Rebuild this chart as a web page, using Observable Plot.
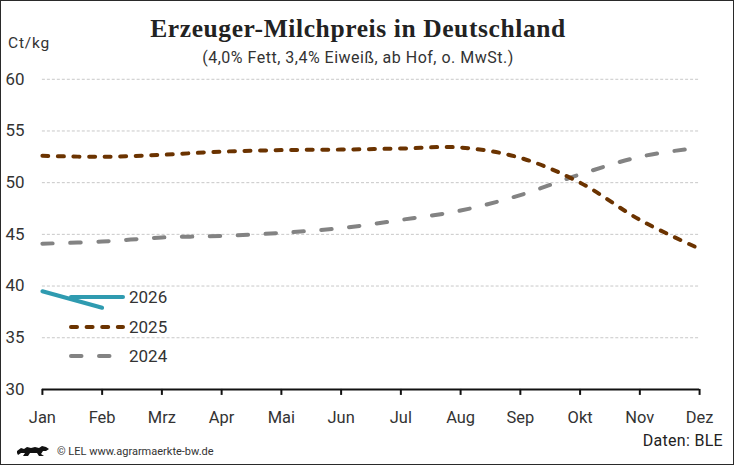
<!DOCTYPE html>
<html><head><meta charset="utf-8">
<script src="https://cdn.jsdelivr.net/npm/d3@7"></script>
<script src="https://cdn.jsdelivr.net/npm/@observablehq/plot@0.6"></script>
<style>
html,body{margin:0;padding:0;background:#fff;}
#wrap{position:relative;width:734px;height:465px;box-sizing:border-box;border:1px solid #2a2a2a;overflow:hidden;font-family:Roboto,"Liberation Sans",sans-serif;color:#333;}
#wrap svg.plot{position:absolute;left:-1px;top:-1px;}
.abs{position:absolute;white-space:nowrap;}
#title{left:-10px;width:734px;top:13px;text-align:center;font-family:"Liberation Serif",serif;font-weight:bold;font-size:25.5px;color:#222;letter-spacing:0.6px;}
#subtitle{left:-10px;width:734px;top:47px;text-align:center;font-size:16px;letter-spacing:0.5px;color:#333;}
#unit{left:7px;top:33px;font-size:15.5px;letter-spacing:0.8px;color:#333;}
#legend{left:67px;top:281px;font-size:17px;color:#333;}
#legend .row{display:flex;align-items:center;height:29.7px;}
#legend svg{margin-right:3px;}
#source{right:10px;top:430px;font-size:16px;letter-spacing:0.3px;color:#222;}
#copy{left:14px;top:443px;font-size:11px;color:#333;display:flex;align-items:center;}
</style></head>
<body>
<div id="wrap">
  <div id="chart"></div>
  <div id="title" class="abs">Erzeuger-Milchpreis in Deutschland</div>
  <div id="subtitle" class="abs">(4,0% Fett, 3,4% Eiweiß, ab Hof, o. MwSt.)</div>
  <div id="unit" class="abs">Ct/kg</div>
  <div id="legend" class="abs"></div>
  <div id="source" class="abs">Daten: BLE</div>
  <div id="copy" class="abs"><svg width="36" height="14" viewBox="0 0 36 14" style="margin-right:6px"><path d="M2 7 L6 4 L9 5 L12 3 L16 4 L20 3 L24 4 L27 2 L31 3 L34 5 L31 7 L28 7 L26 10 L29 12 L24 12 L22 9 L15 9 L13 12 L8 12 L10 9 L6 9 L3 11 L2 9 Z" fill="#111"/></svg>© LEL www.agrarmaerkte-bw.de</div>
</div>
<script>
const months = ["Jan","Feb","Mrz","Apr","Mai","Jun","Jul","Aug","Sep","Okt","Nov","Dez"];
const years = ["2026","2025","2024"];
const values2026 = [39.5, 37.9];
const values2025 = [52.6, 52.5, 52.7, 53.0, 53.15, 53.2, 53.3, 53.4, 52.4, 50.0, 46.4, 43.6];
const values2024 = [44.1, 44.3, 44.7, 44.85, 45.15, 45.6, 46.4, 47.3, 48.8, 50.8, 52.5, 53.4];
const yTicks = [30, 35, 40, 45, 50, 55, 60];

const colors = {"2026": "#2f9bb0", "2025": "#6b3300", "2024": "#838383"};
const dashes = {"2026": null, "2025": "6,9.6", "2024": "10.5,17.5"};
const widths = {"2026": 4, "2025": 4, "2024": 4};

const toRows = (arr, year) => arr.map((v, i) => ({m: i, v, year}));
const data2026 = toRows(values2026, "2026");
const data2025 = toRows(values2025, "2025");
const data2024 = toRows(values2024, "2024");

const lineOpts = (year) => ({x: "m", y: "v", stroke: colors[year], strokeWidth: widths[year],
  strokeDasharray: dashes[year] || undefined, strokeLinecap: "round", curve: "catmull-rom"});

const plot = Plot.plot({
  width: 734, height: 465,
  marginTop: 78, marginBottom: 76, marginLeft: 41, marginRight: 34,
  style: {fontFamily: "Roboto, 'Liberation Sans', sans-serif", color: "#333", background: "transparent", overflow: "visible"},
  x: {domain: [0, 11]},
  y: {domain: [30, 60]},
  marks: [
    Plot.gridY(yTicks.filter(d => d > 30), {stroke: "#c8c8c8", strokeOpacity: 1, strokeDasharray: "3,2"}),
    Plot.axisY(yTicks, {tickSize: 0, tickPadding: 0, textAnchor: "start", dx: -37, fontSize: 17, label: null, fill: "#333"}),
    Plot.axisX(d3.range(12), {tickSize: 6, tickPadding: 16, tickFormat: i => months[i], fontSize: 16.5, label: null, stroke: "#111", strokeWidth: 2, fill: "#333"}),
    Plot.ruleY([30], {stroke: "#111", strokeWidth: 2}),
    Plot.line(data2024, lineOpts("2024")),
    Plot.line(data2025, lineOpts("2025")),
    Plot.line(data2026, lineOpts("2026"))
  ]
});
document.getElementById("chart").appendChild(plot);

const legend = document.getElementById("legend");
for (const y of years) {
  const row = document.createElement("div");
  row.className = "row";
  const dash = dashes[y] ? `stroke-dasharray="${dashes[y]}"` : "";
  row.innerHTML = `<svg width="58" height="10"><line x1="3" y1="5" x2="55" y2="5" stroke="${colors[y]}" stroke-width="${widths[y]}" stroke-linecap="round" ${dash}/></svg><span>${y}</span>`;
  legend.appendChild(row);
}
</script>
</body></html>
